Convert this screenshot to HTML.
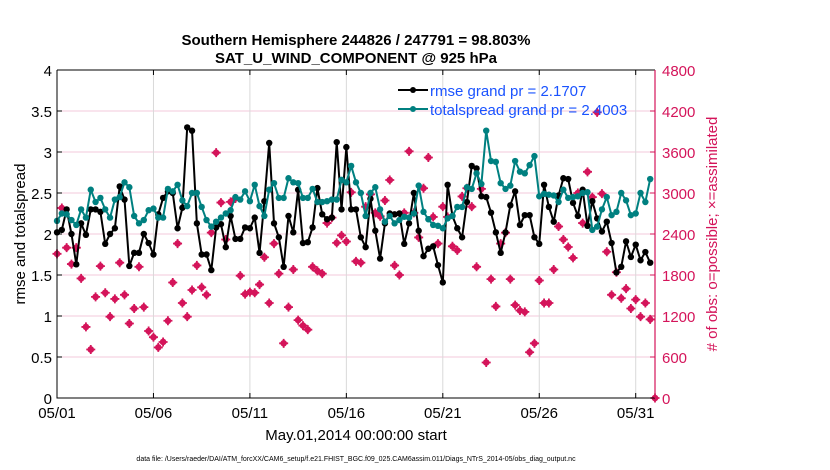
<!DOCTYPE html>
<html><head><meta charset="utf-8"><style>
body{margin:0;background:#fff;}
svg{display:block;font-family:"Liberation Sans",sans-serif;}
</style></head><body>
<svg id="chart" width="830" height="470" viewBox="0 0 830 470">
<rect width="830" height="470" fill="#fff"/>
<text x="356" y="45" text-anchor="middle" font-size="15" font-weight="bold">Southern Hemisphere 244826 / 247791 = 98.803%</text>
<text x="356" y="63" text-anchor="middle" font-size="15" font-weight="bold">SAT_U_WIND_COMPONENT @ 925 hPa</text>
<g id="grid"></g>
<g id="series"></g>
<g id="axes"></g>
<text transform="translate(25,234) rotate(-90)" text-anchor="middle" font-size="15">rmse and totalspread</text>
<text transform="translate(717,234) rotate(-90)" text-anchor="middle" font-size="15" fill="#d4145a"># of obs: o=possible; ×=assimilated</text>
<text x="356" y="440" text-anchor="middle" font-size="15">May.01,2014 00:00:00 start</text>
<text x="356" y="461" text-anchor="middle" font-size="7">data file: /Users/raeder/DAI/ATM_forcXX/CAM6_setup/f.e21.FHIST_BGC.f09_025.CAM6assim.011/Diags_NTrS_2014-05/obs_diag_output.nc</text>
<g>
<line x1="398" y1="90" x2="428" y2="90" stroke="#000" stroke-width="2"/><circle cx="413" cy="90" r="3" fill="#000"/>
<text x="430" y="96" font-size="15" fill="#1a53ff">rmse grand pr = 2.1707</text>
<line x1="398" y1="109" x2="428" y2="109" stroke="#008080" stroke-width="2"/><circle cx="413" cy="109" r="3" fill="#008080"/>
<text x="430" y="115" font-size="15" fill="#1a53ff">totalspread grand pr = 2.4003</text>
</g>
</svg>
<script>
const rmse=[2.02,2.05,2.3,2.0,1.63,2.13,1.99,2.3,2.3,2.27,1.88,2.0,2.07,2.58,2.42,1.61,1.77,1.77,2.0,1.89,1.75,2.24,2.44,2.52,2.5,2.07,2.32,3.3,3.26,2.13,1.75,1.75,
1.56,2.08,2.12,1.84,2.22,1.94,1.94,2.08,2.07,2.2,1.77,2.4,3.11,2.13,1.96,1.6,2.22,2.02,2.54,1.89,1.9,2.08,2.56,2.24,2.18,2.2,3.12,2.3,3.06,2.3,2.3,
1.96,1.84,2.43,2.04,1.7,2.13,2.25,2.24,2.25,1.88,2.13,2.5,2.04,1.73,1.82,1.85,1.62,1.41,2.6,2.22,2.07,1.96,2.39,2.83,2.8,2.46,2.45,2.26,2.02,1.77,2.02,
2.35,2.52,2.11,2.23,2.23,1.96,1.88,2.6,2.33,2.15,2.47,2.68,2.67,2.38,2.22,2.54,2.1,2.4,2.19,2.03,2.15,1.89,1.53,1.6,1.91,1.72,1.87,1.68,1.78,1.65];
const spread=[2.16,2.25,2.24,2.17,2.11,2.3,2.2,2.54,2.39,2.44,2.3,2.2,2.42,2.45,2.63,2.57,2.22,2.13,2.17,2.29,2.31,2.2,2.2,2.55,2.52,2.6,2.41,2.34,2.5,2.5,2.33,
2.17,2.09,2.15,2.2,2.25,2.29,2.45,2.42,2.52,2.4,2.6,2.34,2.22,2.54,2.62,2.44,2.44,2.68,2.63,2.62,2.44,2.44,2.55,2.39,2.39,2.4,2.42,2.42,2.66,2.63,2.83,2.63,
2.5,2.22,2.5,2.57,2.3,2.15,2.22,2.13,2.17,2.21,2.2,2.25,2.59,2.27,2.18,2.11,2.1,2.07,2.19,2.22,2.33,2.33,2.57,2.55,2.74,2.61,3.26,2.89,2.88,2.62,2.55,
2.59,2.89,2.76,2.74,2.84,2.95,2.46,2.49,2.48,2.47,2.39,2.54,2.44,2.45,2.46,2.5,2.51,2.05,2.09,2.3,2.45,2.23,2.27,2.5,2.41,2.23,2.25,2.5,2.39,2.67];
const obsCount=[2110,2780,2200,1960,2200,1750,1040,710,1480,1930,1540,1190,1450,1980,1510,1090,1310,1920,1330,980,890,740,820,1130,1690,2260,1390,1190,1580,1940,1620,1510,
2420,3590,2860,2320,2870,2920,1790,1520,1550,1540,1660,2060,1390,2260,1820,800,1330,1880,1140,1060,1000,1920,1860,1820,2560,2640,2270,2380,2290,3010,2000,
1980,2800,2980,2710,2660,2890,3190,1940,1800,2710,3610,2710,2350,3070,3520,2650,2260,2800,2650,2220,2160,2950,3070,2800,1920,3060,520,1740,1340,2260,2420,
1740,1360,1280,1260,670,800,1720,1390,1390,1880,2510,2320,2210,2050,3000,2560,3310,2940,4180,2990,2140,1510,1840,1460,1600,1310,1440,1190,1390,1150,0];
const yTicks=["0","0.5","1","1.5","2","2.5","3","3.5","4"];
const y2Ticks=["0","600","1200","1800","2400","3000","3600","4200","4800"];
const xTickLabels=["05/01","05/06","05/11","05/16","05/21","05/26","05/31"];
const xTickDays=[0,5,10,15,20,25,30];

const NS="http://www.w3.org/2000/svg";
const X0=57,X1=655,Y0=398,Y1=70,DAYS=31;
const xDay=d=>X0+(X1-X0)*d/DAYS;
const xIdx=i=>xDay(i/4);
const yL=v=>Y0-(Y0-Y1)*v/4;
const yR=v=>Y0-(Y0-Y1)*v/4800;
function mk(tag,attrs,parent){const e=document.createElementNS(NS,tag);for(const k in attrs)e.setAttribute(k,attrs[k]);parent.appendChild(e);return e;}
const grid=document.getElementById('grid'),ser=document.getElementById('series'),ax=document.getElementById('axes');
yTicks.forEach((t,i)=>{const y=yL(parseFloat(t));
 if(i>0&&i<8){const g=mk('line',{x1:X0,x2:X1,y1:y,y2:y,stroke:'#f3cadb','stroke-width':1},grid);
 
 }
 const tx=mk('text',{x:X0-5,y:y+6,'text-anchor':'end','font-size':15},ax);tx.textContent=t;
 
 
 mk('line',{x1:X0,x2:X0+5,y1:y,y2:y,stroke:'#000'},ax);
});
y2Ticks.forEach(t=>{const y=yR(parseFloat(t));
 const tx=mk('text',{x:X1+7,y:y+6,'font-size':15,fill:'#d4145a'},ax);tx.textContent=t;
 
 
 mk('line',{x1:X1-5,x2:X1,y1:y,y2:y,stroke:'#d4145a'},ax);
});
xTickDays.forEach((d,i)=>{const x=xDay(d);
 if(i>0){const g=mk('line',{x1:x,x2:x,y1:Y1,y2:Y0,stroke:'#d9d9d9','stroke-width':1},grid);
 
 }
 mk('line',{x1:x,x2:x,y1:Y0,y2:Y0-5,stroke:'#000'},ax);
 mk('line',{x1:x,x2:x,y1:Y1,y2:Y1+5,stroke:'#000'},ax);
 const tx=mk('text',{x:x,y:Y0+20,'text-anchor':'middle','font-size':15},ax);tx.textContent=xTickLabels[i];
 
 
});
mk('path',{d:`M${X0},${Y1}H${X1}M${X0},${Y1}V${Y0}H${X1}`,stroke:'#000',fill:'none','stroke-width':1},ax);
mk('line',{x1:X1,x2:X1,y1:Y1,y2:Y0,stroke:'#d4145a','stroke-width':1.2},ax);

// obs markers
obsCount.forEach((v,i)=>{const x=xIdx(i),y=yR(v);
 const g=mk('g',{},ser);
 
 
 mk('circle',{cx:x,cy:y,r:3.3,fill:'#d4145a'},g);
 mk('path',{d:`M${x-4.5},${y}H${x+4.5}M${x},${y-4.5}V${y+4.5}`,stroke:'#d4145a','stroke-width':1.8},g);
});
function series(arr,color,name){
 const p=mk('polyline',{points:arr.map((v,i)=>xIdx(i)+','+yL(v)).join(' '),fill:'none',stroke:color,'stroke-width':2,'stroke-linejoin':'round'},ser);
 
 
 arr.forEach((v,i)=>{const c=mk('circle',{cx:xIdx(i),cy:yL(v),r:3.2,fill:color},ser);
  
  });
}
series(rmse,'#000','rmse');
series(spread,'#008080','totalspread');
</script>
</body></html>
